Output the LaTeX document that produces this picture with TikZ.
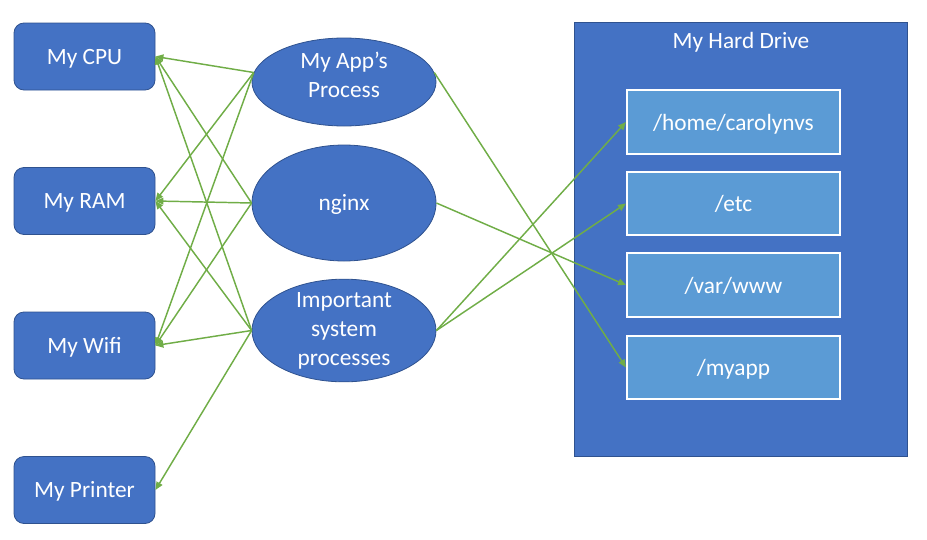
\documentclass[tikz,border=0pt]{standalone}
\usepackage{fontspec}
\setmainfont{Carlito}
\usetikzlibrary{shapes.geometric,arrows.meta}
\definecolor{boxblue}{HTML}{4472C4}
\definecolor{boxedge}{HTML}{2F528F}
\definecolor{dirblue}{HTML}{5B9BD5}
\definecolor{linkgreen}{HTML}{70AD47}
\tikzset{
  hw/.style={draw=boxedge, line width=0.6pt, fill=boxblue, rounded corners=7.5pt,
    minimum width=105.75pt, minimum height=50.25pt, inner sep=0pt,
    text height=11.8pt, text depth=0pt,
    text=white, font=\fontsize{17.5}{22}\selectfont},
  proc/.style={ellipse, draw=boxedge, line width=0.6pt, fill=boxblue,
    minimum width=138pt, inner sep=0pt},
  txt/.style={text=white, font=\fontsize{17.5}{22}\selectfont, align=center, inner sep=0pt},
  drive/.style={draw=boxedge, line width=0.6pt, fill=boxblue,
    minimum width=249.75pt, minimum height=325.5pt, inner sep=0pt},
  dir/.style={draw=white, line width=1.5pt, fill=dirblue,
    minimum width=159.75pt, minimum height=47.5pt, inner sep=0pt,
    text height=12.5pt, text depth=0pt,
    text=white, font=\fontsize{17.5}{22}\selectfont},
  link/.style={draw=linkgreen, line width=1.1pt, -{Triangle[length=6pt,width=5pt]}}
}
\begin{document}
\begin{tikzpicture}[x=0.75pt, y=-0.75pt]
\useasboundingbox (0,0) rectangle (927,539);
% hardware
\node[hw] (cpu) at (84.5,56.5) {My CPU};
\node[hw] (ram) at (84.5,201) {My RAM};
\node[hw] (wifi) at (84.5,345.5) {My Wifi};
\node[hw] (printer) at (84.5,490) {My Printer};
% processes
\node[proc, minimum height=66pt] (app) at (344,82) {};
\node[txt] (apptxt) at (344,75) {My App’s\\Process};
\node[proc, minimum height=87pt] (nginx) at (344,203) {};
\node[txt] (nginxtxt) at (344,204) {nginx};
\node[proc, minimum height=77pt] (imp) at (344,330.5) {};
\node[txt] (imptxt) at (344,331) {Important\\system\\processes};
% hard drive
\node[drive] (hd) at (740.5,239) {};
\node[txt] (hdtxt) at (741,42) {My Hard Drive};
\node[dir] (home) at (733.5,122) {/home/carolynvs};
\node[dir] (etc) at (733.5,203.5) {/etc};
\node[dir] (var) at (733.5,285) {/var/www};
\node[dir] (myapp) at (733.5,367.5) {/myapp};
% links to hardware
\foreach \p/\a in {app/174, nginx/180, imp/180}{
  \draw[link] (\p.\a) -- (cpu.east);
  \draw[link] (\p.\a) -- (ram.east);
  \draw[link] (\p.\a) -- (wifi.east);
}
\draw[link] (imp.west) -- (printer.east);
% links to directories
\draw[link] (app.6) -- (myapp.west);
\draw[link] (nginx.east) -- (var.west);
\draw[link] (imp.east) -- (home.west);
\draw[link] (imp.east) -- (etc.west);
\end{tikzpicture}
\end{document}
